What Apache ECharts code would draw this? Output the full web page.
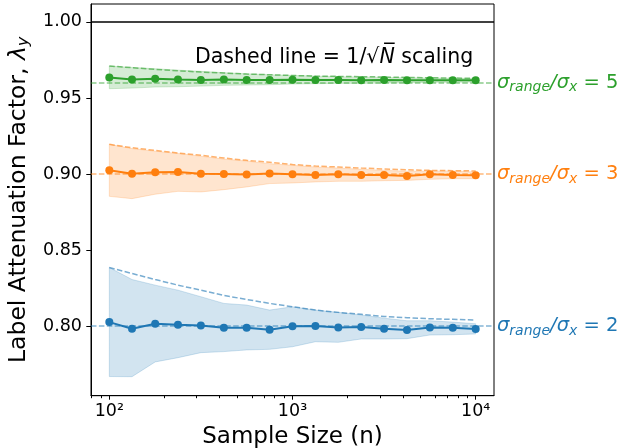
<!DOCTYPE html>
<html>
<head>
<meta charset="utf-8">
<script src="https://cdn.jsdelivr.net/npm/echarts@6/dist/echarts.min.js"></script>
<style>
  html, body { margin: 0; padding: 0; background: #ffffff; }
  #chart { width: 636px; height: 448px; }
</style>
</head>
<body>
<div id="chart"></div>
<script>
// Sample sizes (log-spaced, 10^2 .. 10^4)
const sampleSizes = [100, 133, 178, 237, 316, 422, 562, 750, 1000, 1334, 1778, 2371, 3162, 4217, 5623, 7499, 10000];

// sigma_range / sigma_x = 2
const blueMean    = [0.8026, 0.7982, 0.8015, 0.8009, 0.8004, 0.7989, 0.7989, 0.7976, 0.7998, 0.8000, 0.7991, 0.7993, 0.7982, 0.7974, 0.7991, 0.7989, 0.7980];
const blueUpper   = [0.8385, 0.8306, 0.8269, 0.8236, 0.8193, 0.8149, 0.8138, 0.8105, 0.8127, 0.8105, 0.8090, 0.8073, 0.8052, 0.8035, 0.8035, 0.8026, 0.8015];
const blueLower   = [0.7668, 0.7667, 0.7764, 0.7792, 0.7825, 0.7832, 0.7843, 0.7847, 0.7864, 0.7897, 0.7893, 0.7915, 0.7915, 0.7917, 0.7941, 0.7943, 0.7948];
const blueScaling = [0.8385, 0.8346, 0.8306, 0.8269, 0.8236, 0.8201, 0.8175, 0.8149, 0.8127, 0.8105, 0.8090, 0.8077, 0.8063, 0.8055, 0.8048, 0.8044, 0.8039];

// sigma_range / sigma_x = 3
const orangeMean    = [0.9024, 0.9002, 0.9011, 0.9013, 0.9002, 0.9000, 0.8996, 0.9004, 0.8998, 0.8993, 0.8998, 0.8993, 0.8993, 0.8987, 0.8998, 0.8993, 0.8991];
const orangeUpper   = [0.9195, 0.9167, 0.9150, 0.9135, 0.9117, 0.9098, 0.9085, 0.9068, 0.9057, 0.9046, 0.9039, 0.9031, 0.9024, 0.9018, 0.9020, 0.9020, 0.9013];
const orangeLower   = [0.8853, 0.8838, 0.8867, 0.8886, 0.8882, 0.8897, 0.8915, 0.8937, 0.8941, 0.8948, 0.8952, 0.8952, 0.8956, 0.8958, 0.8965, 0.8969, 0.8969];
const orangeScaling = [0.9195, 0.9173, 0.9155, 0.9138, 0.9123, 0.9105, 0.9090, 0.9077, 0.9063, 0.9052, 0.9046, 0.9039, 0.9033, 0.9028, 0.9024, 0.9022, 0.9020];

// sigma_range / sigma_x = 5
const greenMean    = [0.9635, 0.9622, 0.9627, 0.9622, 0.9618, 0.9622, 0.9618, 0.9618, 0.9620, 0.9618, 0.9618, 0.9616, 0.9618, 0.9616, 0.9616, 0.9616, 0.9616];
const greenUpper   = [0.9710, 0.9701, 0.9692, 0.9683, 0.9675, 0.9666, 0.9659, 0.9653, 0.9648, 0.9644, 0.9640, 0.9638, 0.9635, 0.9633, 0.9631, 0.9629, 0.9629];
const greenLower   = [0.9561, 0.9565, 0.9572, 0.9574, 0.9578, 0.9583, 0.9585, 0.9587, 0.9592, 0.9594, 0.9596, 0.9596, 0.9598, 0.9600, 0.9603, 0.9603, 0.9605];
const greenScaling = [0.9710, 0.9699, 0.9688, 0.9679, 0.9670, 0.9664, 0.9657, 0.9653, 0.9648, 0.9644, 0.9642, 0.9640, 0.9638, 0.9635, 0.9633, 0.9631, 0.9629];

// Asymptotic levels and their ratio labels
const refLevels   = [0.80, 0.90, 0.962];
const ratioLabels = ['2', '3', '5'];
const upperBound  = 1.00;

// Axis ticks
const xTickValues  = [100, 1000, 10000];
const xTickLabels  = ['10²', '10³', '10⁴'];
const xMinorTicks  = [80, 90, 200, 300, 400, 500, 600, 700, 800, 900, 2000, 3000, 4000, 5000, 6000, 7000, 8000, 9000];
const yTickValues  = [0.80, 0.85, 0.90, 0.95, 1.00];

const FONT = 'DejaVu Sans';
const DASH = [5.5, 2.4];

const groups = [
  { color: '#1f77b4', mean: blueMean,   upper: blueUpper,   lower: blueLower,   scaling: blueScaling,   ref: refLevels[0], ratio: ratioLabels[0] },
  { color: '#ff7f0e', mean: orangeMean, upper: orangeUpper, lower: orangeLower, scaling: orangeScaling, ref: refLevels[1], ratio: ratioLabels[1] },
  { color: '#2ca02c', mean: greenMean,  upper: greenUpper,  lower: greenLower,  scaling: greenScaling,  ref: refLevels[2], ratio: ratioLabels[2] }
];

const pairs = ys => sampleSizes.map((n, i) => [n, ys[i]]);

function rgba(hex, a) {
  const v = parseInt(hex.slice(1), 16);
  return 'rgba(' + ((v >> 16) & 255) + ',' + ((v >> 8) & 255) + ',' + (v & 255) + ',' + a + ')';
}

function ratioRich(color) {
  return {
    s:   { fontFamily: FONT, fontSize: 19.5, fontStyle: 'italic', color: color },
    sub: { fontFamily: FONT, fontSize: 14, fontStyle: 'italic', color: color, padding: [10, 0, 0, 0] },
    n:   { fontFamily: FONT, fontSize: 19.5, color: color }
  };
}

const series = [];
groups.forEach((g, k) => {
  // shaded spread between the lower and upper bounds
  series.push({
    type: 'custom', coordinateSystem: 'cartesian2d', silent: true, z: 1,
    data: [[sampleSizes[0], g.mean[0]]],
    renderItem: (params, api) => {
      const pts = sampleSizes.map((n, i) => api.coord([n, g.upper[i]]));
      for (let i = sampleSizes.length - 1; i >= 0; i--) {
        pts.push(api.coord([sampleSizes[i], g.lower[i]]));
      }
      return {
        type: 'polygon',
        shape: { points: pts },
        style: { fill: rgba(g.color, 0.2), stroke: rgba(g.color, 0.2), lineWidth: 1 }
      };
    }
  });
  // 1/sqrt(N) scaling curve
  series.push({
    type: 'line', data: pairs(g.scaling),
    symbol: 'none', silent: true, z: 2,
    lineStyle: { color: rgba(g.color, 0.6), width: 1.5, type: DASH }
  });
  // mean curve with the asymptotic level as a dashed reference line
  const markData = [{
    yAxis: g.ref,
    label: {
      show: true, position: 'end', distance: 3,
      formatter: '{s|σ}{sub|range}{s|/σ}{sub|x}{n| = ' + g.ratio + '}',
      rich: ratioRich(g.color)
    }
  }];
  if (k === groups.length - 1) {
    markData.push({
      yAxis: upperBound,
      lineStyle: { color: '#000000', width: 1.5, type: 'solid' },
      label: { show: false }
    });
  }
  series.push({
    type: 'line', data: pairs(g.mean), z: 4,
    symbol: 'circle', symbolSize: 8,
    itemStyle: { color: g.color },
    lineStyle: { color: g.color, width: 2 },
    markLine: {
      silent: true, symbol: ['none', 'none'], animation: false,
      lineStyle: { color: rgba(g.color, 0.55), width: 1.5, type: DASH },
      data: markData
    }
  });
});

const supMap = { 2: '²', 3: '³', 4: '⁴' };

const option = {
  animation: false,
  backgroundColor: '#ffffff',
  grid: {
    left: 91, top: 4, width: 403, height: 391.7,
    outerBoundsMode: 'none', containLabel: false,
    show: true, borderColor: '#000000', borderWidth: 1, backgroundColor: 'transparent'
  },
  xAxis: [
    {
      type: 'log', logBase: 10, min: Math.pow(10, 1.9), max: Math.pow(10, 4.1),
      name: 'Sample Size (n)', nameLocation: 'middle', nameGap: 28,
      nameTextStyle: { fontFamily: FONT, fontSize: 23, color: '#000000' },
      axisLine: { show: true, lineStyle: { color: '#000000', width: 1 } },
      axisTick: { show: true, customValues: xTickValues, length: 4, lineStyle: { color: '#000000' } },
      axisLabel: {
        customValues: xTickValues, margin: 7,
        fontFamily: FONT, fontSize: 17.5, color: '#000000',
        formatter: v => {
          const i = xTickValues.indexOf(v);
          return i >= 0 ? xTickLabels[i] : '10' + (supMap[Math.round(Math.log10(v))] || '');
        }
      },
      splitLine: { show: false }
    },
    {
      type: 'log', logBase: 10, min: Math.pow(10, 1.9), max: Math.pow(10, 4.1),
      position: 'bottom', offset: 0,
      axisLine: { show: true, lineStyle: { color: 'rgba(0,0,0,0)' } },
      axisTick: { show: true, customValues: xMinorTicks, length: 2.5, lineStyle: { color: '#000000', width: 1 } },
      axisLabel: { show: false },
      splitLine: { show: false }
    }
  ],
  yAxis: {
    type: 'value', min: 0.7542, max: 1.0118,
    name: 'Label Attenuation Factor, {l|λ}{sub|y}', nameLocation: 'middle', nameGap: 55, nameRotate: 90,
    nameTextStyle: {
      fontFamily: FONT, fontSize: 23.5, color: '#000000',
      rich: {
        l:   { fontFamily: FONT, fontSize: 23.5, fontStyle: 'italic', color: '#000000' },
        sub: { fontFamily: FONT, fontSize: 16, fontStyle: 'italic', color: '#000000', padding: [10, 0, 0, 0] }
      }
    },
    axisLine: { show: true, lineStyle: { color: '#000000', width: 1 } },
    axisTick: { show: true, customValues: yTickValues, length: 4.7, lineStyle: { color: '#000000' } },
    axisLabel: {
      customValues: yTickValues, margin: 9,
      fontFamily: FONT, fontSize: 17.5, color: '#000000',
      formatter: v => v.toFixed(2)
    },
    splitLine: { show: false }
  },
  graphic: [
    {
      type: 'text', left: 195, top: 47,
      style: {
        text: 'Dashed line = 1/√{n|N̅} scaling',
        fontFamily: FONT, fontSize: 20.5, fill: '#000000',
        rich: { n: { fontFamily: FONT, fontSize: 20.5, fontStyle: 'italic', color: '#000000' } }
      }
    }
  ],
  series: series
};

const chart = echarts.init(document.getElementById('chart'), null, { renderer: 'canvas' });
chart.setOption(option);
</script>
</body>
</html>
